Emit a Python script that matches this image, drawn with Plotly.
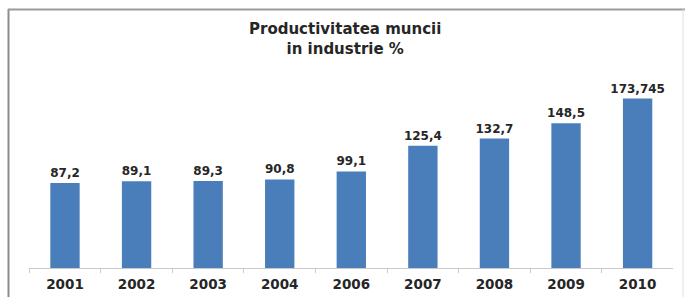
import plotly.graph_objects as go

years = ["2001", "2002", "2003", "2004", "2006", "2007", "2008", "2009", "2010"]
values = [87.2, 89.1, 89.3, 90.8, 99.1, 125.4, 132.7, 148.5, 173.745]
labels = ["87,2", "89,1", "89,3", "90,8", "99,1", "125,4", "132,7", "148,5", "173,745"]
title_text = "Productivitatea muncii<br>in industrie %"

W, H = 685, 297
fig = go.Figure(go.Bar(
    x=years, y=values, text=labels, textposition="outside", constraintext="none",
    textfont=dict(family="DejaVu Sans", size=12, color="#262626", weight="bold"),
    marker=dict(color="#4a7ebb", line=dict(width=0)),
    cliponaxis=False,
))

x0, x1 = 29.2 / W, 673.4 / W
yb, yt = (H - 268) / H, (H - 73) / H

fig.update_layout(
    width=W, height=H,
    margin=dict(l=0, r=0, t=0, b=0),
    paper_bgcolor="white", plot_bgcolor="white",
    bargap=0.59,
    showlegend=False,
    xaxis=dict(domain=[x0, x1], type="category", showgrid=False,
               showline=True, linecolor="#c8c8c8", linewidth=1,
               ticks="outside", tickson="boundaries", ticklen=4, tickcolor="#c8c8c8",
               ticklabelstandoff=4,
               tickfont=dict(family="DejaVu Sans", size=13.5, color="#262626", weight="bold")),
    yaxis=dict(domain=[yb, yt], range=[0, 200], visible=False),
    annotations=[dict(text=title_text, x=345 / W, y=(H - 39) / H, xref="paper", yref="paper",
                      showarrow=False, xanchor="center", yanchor="middle",
                      font=dict(family="DejaVu Sans", size=15, color="#262626", weight="bold"))],
    shapes=[
        dict(type="line", xref="paper", yref="paper", x0=8.5 / W, x1=8.5 / W, y0=(H - 9) / H, y1=0,
             line=dict(color="#8c8c8c", width=2)),
        dict(type="line", xref="paper", yref="paper", x0=8 / W, x1=1, y0=(H - 9.5) / H, y1=(H - 9.5) / H,
             line=dict(color="#9a9a9a", width=2)),
        dict(type="line", xref="paper", yref="paper", x0=683 / W, x1=683 / W, y0=(H - 9) / H, y1=0,
             line=dict(color="#e0e0e0", width=1)),
    ],
)

fig.write_html("out.html", config={"displayModeBar": False},
               post_script="document.body.style.margin='0';document.body.style.overflow='hidden';")
